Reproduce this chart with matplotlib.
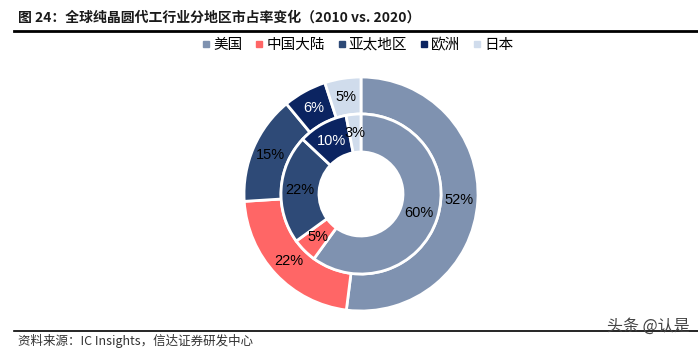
import numpy as np
import matplotlib.pyplot as plt
from matplotlib.lines import Line2D

plt.rcParams['font.family'] = ['Liberation Sans', 'Noto Sans CJK SC', 'DejaVu Sans']

regions = ['美国', '中国大陆', '亚太地区', '欧洲', '日本']
share_2020 = [52, 22, 15, 6, 5]   # outer ring
share_2010 = [60, 5, 22, 10, 3]   # inner ring
colors = ['#7F92B0', '#FF6666', '#2E4A77', '#0B2461', '#D0DCEC']
outer_txt = ['black', 'black', 'black', 'white', 'black']
inner_txt = ['black', 'black', 'black', 'white', 'black']

W, H = 698, 351
fig = plt.figure(figsize=(W / 100, H / 100), dpi=100)

# pie axes: centre (361,194) px, outer radius 117 px
cx, cy, R = 361, 194, 117
ax = fig.add_axes([(cx - R) / W, (H - cy - R) / H, 2 * R / W, 2 * R / H])

r_mid = 80 / R
r_hole = 42 / R


def ring(vals, radius, width, txtcols):
    wedges, _ = ax.pie(vals, radius=radius, colors=colors, startangle=90,
                       counterclock=False,
                       wedgeprops=dict(width=width, edgecolor='white', linewidth=2))
    rl = radius - width / 2
    for w, v, tc in zip(wedges, vals, txtcols):
        a = np.deg2rad((w.theta1 + w.theta2) / 2)
        ax.text(rl * np.cos(a), rl * np.sin(a), f'{v}%', ha='center', va='center',
                fontsize=10.5, color=tc)


ring(share_2020, 1.0, 1.0 - r_mid, outer_txt)
ring(share_2010, r_mid, r_mid - r_hole, inner_txt)
ax.set_xlim(-1, 1)
ax.set_ylim(-1, 1)
ax.set_aspect('equal')
ax.axis('off')

# title and rules
fig.text(18 / W, 1 - 18 / H, '图 24：全球纯晶圆代工行业分地区市占率变化（2010 vs. 2020）',
         fontsize=10, fontweight='bold', color='#1a1a1a', va='center', ha='left',
         family=['Noto Sans CJK SC', 'DejaVu Sans'])
fig.add_artist(Line2D([14 / W, 1], [1 - 31 / H, 1 - 31 / H], color='black', lw=2))
fig.add_artist(Line2D([14 / W, 1], [1 - 331 / H, 1 - 331 / H], color='black', lw=1.2))

# legend
handles = [Line2D([], [], marker='s', color=c, ls='', markersize=4) for c in colors]
fig.legend(handles, regions, loc='center', bbox_to_anchor=(358 / W, 1 - 45 / H), ncol=5,
           frameon=False, handlelength=0.5, handletextpad=0.25,
           columnspacing=0.9, prop={'family': ['Noto Sans CJK SC'], 'size': 10.5})

# footer
fig.text(18 / W, 1 - 341 / H, '资料来源：IC Insights，信达证券研发中心', fontsize=9,
         style='italic', color='#333333', va='center', ha='left',
         family=['Noto Sans CJK SC', 'DejaVu Sans'])
fig.text(690 / W, 1 - 326 / H, '头条 @认是', fontsize=11.5, color='#444444',
         va='center', ha='right', family=['Noto Sans CJK SC', 'DejaVu Sans'])

plt.savefig('out.png', dpi=100)
